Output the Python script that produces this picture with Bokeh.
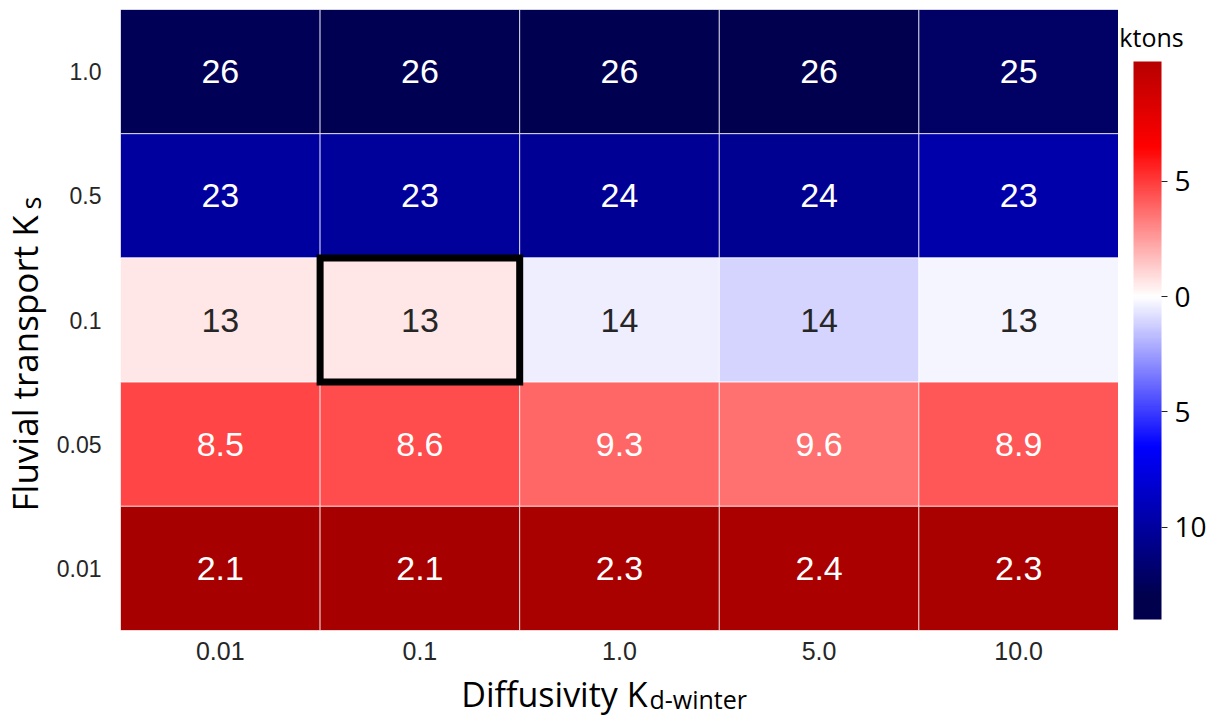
import math
from bokeh.plotting import figure
from bokeh.layouts import row, column
from bokeh.models import (ColumnDataSource, LinearColorMapper, ColorBar, FixedTicker,
                          FactorRange, Range1d)
from bokeh.transform import transform
from bokeh.core.properties import value
from bokeh.embed import file_html
from bokeh.resources import INLINE

# ---------------- data ----------------
diffusivity = ["0.01", "0.1", "1.0", "5.0", "10.0"]          # x categories
fluvial = ["1.0", "0.5", "0.1", "0.05", "0.01"]              # y categories, top to bottom
row_1_0 = [25.9, 26.0, 26.1, 26.2, 25.3]
row_0_5 = [23.2, 23.3, 23.6, 23.7, 22.8]
row_0_1 = [12.6, 12.6, 13.6, 14.3, 13.4]
row_0_05 = [8.5, 8.6, 9.3, 9.6, 8.9]
row_0_01 = [2.1, 2.1, 2.3, 2.4, 2.3]
rows = [row_1_0, row_0_5, row_0_1, row_0_05, row_0_01]
baseline = 13.2                      # colour centre (ktons)
highlight_cell = ("0.1", "0.1")      # (diffusivity, fluvial)
cbar_ticks = [-10, -5, 0, 5]
cbar_tick_labels = {-10: "10", -5: "5", 0: "0", 5: "5"}
cbar_low, cbar_high = -14.0, 10.2

x_title, x_title_sub = "Diffusivity K", "d-winter"
y_title, y_title_sub = "Fluvial transport K", "s"
cbar_title = "ktons"

# ---------------- colours (seismic colormap) ----------------
def seismic(t):
    t = min(max(t, 0.0), 1.0)
    pts = [(0.0, (0, 0, 0.3)), (0.25, (0, 0, 1)), (0.5, (1, 1, 1)),
           (0.75, (1, 0, 0)), (1.0, (0.5, 0, 0))]
    for (t0, c0), (t1, c1) in zip(pts, pts[1:]):
        if t <= t1:
            f = (t - t0) / (t1 - t0)
            return tuple(a + (b - a) * f for a, b in zip(c0, c1))
    return pts[-1][1]

def to_hex(c):
    return "#%02x%02x%02x" % tuple(int(round(v * 255)) for v in c)

def lum(c):
    def ch(v):
        return v / 12.92 if v <= 0.03928 else ((v + 0.055) / 1.055) ** 2.4
    r, g, b = (ch(v) for v in c)
    return 0.2126 * r + 0.7152 * g + 0.0722 * b

all_vals = [v for r in rows for v in r]
R = max(max(all_vals) - baseline, baseline - min(all_vals))

def make_palette(lo, hi, n=256):
    return [to_hex(seismic(0.5 + (lo + (i + 0.5) * (hi - lo) / n) / (2 * R))) for i in range(n)]

u_lo, u_hi = baseline - max(all_vals), baseline - min(all_vals)
mapper = LinearColorMapper(palette=make_palette(u_lo, u_hi), low=u_lo, high=u_hi)
cbar_mapper = LinearColorMapper(palette=make_palette(cbar_low, cbar_high), low=cbar_low, high=cbar_high)

xs, ys, us, labels, tcolors = [], [], [], [], []
for yi, r in zip(fluvial, rows):
    for xi, v in zip(diffusivity, r):
        u = baseline - v
        xs.append(xi); ys.append(yi); us.append(u)
        labels.append(f"{v:.2g}")
        c = seismic(0.5 + u / (2 * R))
        tcolors.append("#262626" if lum(c) > 0.408 else "white")
src = ColumnDataSource(dict(x=xs, y=ys, u=us, label=labels, tc=tcolors))

TITLE_FONT = "Open Sans"
TICK_FONT = "Liberation Sans"
MID = 0.388                      # Open Sans: baseline -> "middle" offset (em)
TOTAL_H = 718
LEFT_W = 49
RIGHT_W = 94
FRAME_W, FRAME_H = 998, 621
MB_LEFT, MB_TOP, MB_BOTTOM = 71, 9, 40
MAIN_H = MB_TOP + FRAME_H + MB_BOTTOM
XT_H = TOTAL_H - MAIN_H

def blank(w, h, left=0):
    f = figure(frame_width=w, frame_height=h, x_range=Range1d(0, w), y_range=Range1d(0, h),
               min_border=0, min_border_left=left, x_axis_location=None, y_axis_location=None,
               output_backend="svg", toolbar_location=None)
    f.outline_line_color = None
    f.grid.visible = False
    return f

# ---------------- heatmap ----------------
p = figure(x_range=FactorRange(*diffusivity), y_range=FactorRange(*reversed(fluvial)),
           frame_width=FRAME_W, frame_height=FRAME_H,
           min_border_left=MB_LEFT, min_border_top=MB_TOP, min_border_bottom=MB_BOTTOM,
           min_border_right=0, output_backend="svg", toolbar_location=None)
p.outline_line_color = None
p.grid.visible = False
for ax in (p.xaxis, p.yaxis):
    ax.axis_line_color = None
    ax.major_tick_line_color = None
    ax.minor_tick_line_color = None
    ax.major_tick_out = 0
    ax.major_tick_in = 0
    ax.major_label_text_font = TICK_FONT
    ax.major_label_text_color = "#262626"
p.xaxis.major_label_text_font_size = "25px"
p.yaxis.major_label_text_font_size = "23px"
p.yaxis.major_label_standoff = 19
p.xaxis.major_label_standoff = 11

p.rect(x="x", y="y", width=1, height=1, source=src,
       fill_color=transform("u", mapper), line_color="white", line_alpha=0.7, line_width=1)
p.text(x="x", y="y", text="label", source=src, text_align="center", text_baseline="middle",
       text_font=value(TICK_FONT), text_font_size="34px", text_color="tc")
p.rect(x=[highlight_cell[0]], y=[highlight_cell[1]], width=1, height=1,
       fill_color=None, line_color="black", line_width=7, line_join="miter")

# ---------------- x title (frame aligned with heatmap frame) ----------------
px = blank(FRAME_W, XT_H, left=MB_LEFT)
xt_size, xs_size = 34, 25
px.text(x=[527], y=[TOTAL_H - (707 - MID * xt_size)], text=[x_title], text_align="right",
        text_baseline="middle", text_font=value(TITLE_FONT), text_font_size=f"{xt_size}px",
        text_color="black")
px.text(x=[529], y=[TOTAL_H - (708 - MID * xs_size)], text=[x_title_sub], text_align="left",
        text_baseline="middle", text_font=value(TITLE_FONT), text_font_size=f"{xs_size}px",
        text_color="black")

# ---------------- y title ----------------
py = blank(LEFT_W, TOTAL_H)
yt_size, ys_size = 35, 27
py.text(x=[38 - MID * yt_size], y=[TOTAL_H - 511], text=[y_title], text_align="left", text_baseline="middle",
        angle=math.pi / 2, text_font=value(TITLE_FONT), text_font_size=f"{yt_size}px", text_color="black")
py.text(x=[40.5 - MID * ys_size], y=[TOTAL_H - 209], text=[y_title_sub], text_align="left", text_baseline="middle",
        angle=math.pi / 2, text_font=value(TITLE_FONT), text_font_size=f"{ys_size}px", text_color="black")

# ---------------- colour bar ----------------
pc = blank(RIGHT_W, TOTAL_H)
pc.text(x=[33], y=[TOTAL_H - (46 - MID * 25)], text=[cbar_title], text_align="center",
        text_baseline="middle", text_font=value(TITLE_FONT), text_font_size="25px", text_color="black")
cb = ColorBar(color_mapper=cbar_mapper, width=28, height=558,
              location=(15, TOTAL_H - 619), padding=0, margin=0,
              ticker=FixedTicker(ticks=cbar_ticks), major_label_overrides=cbar_tick_labels,
              major_tick_line_color="#222222", major_tick_out=6, major_tick_in=0,
              major_label_text_font=TITLE_FONT, major_label_text_font_size="28px",
              major_label_text_color="black", label_standoff=7,
              border_line_color=None, bar_line_color=None, background_fill_color=None)
pc.add_layout(cb, "center")

layout = row(py, column(p, px), pc)
open("out.html", "w").write(file_html(layout, INLINE))
